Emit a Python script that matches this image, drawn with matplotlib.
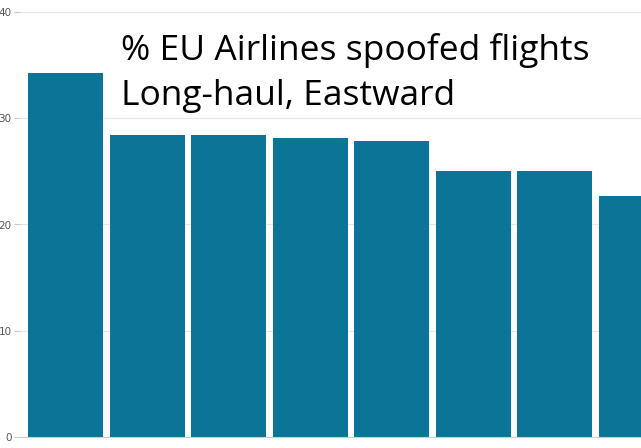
import matplotlib.pyplot as plt

# bar values (last bar is cut off by the image edge)
positions = [0, 1, 2, 3, 4, 5, 6, 7]
values = [34.3, 28.4, 28.4, 28.1, 27.9, 25.0, 25.0, 22.7]
yticks = [0, 10, 20, 30, 40]
title_lines = ["% EU Airlines spoofed flights", "Long-haul, Eastward"]

fig = plt.figure(figsize=(6.41, 4.48), dpi=100)
ax = fig.add_axes([20 / 641, 11 / 448, 1 - 20 / 641, 1 - 23 / 448])

ax.bar(positions, values, width=0.92, color='#0c7597')

ax.set_xlim(-0.558, 7.06)
ax.set_ylim(0, 40)
ax.set_yticks(yticks)
ax.set_yticklabels([str(t) for t in yticks], fontsize=7.5, color='#555555')
ax.set_xticks([])
ax.yaxis.grid(True, color='#e6e6e6', linewidth=0.8)
ax.set_axisbelow(True)
for s in ['top', 'right', 'left']:
    ax.spines[s].set_visible(False)
ax.spines['bottom'].set_color('#cccccc')
ax.tick_params(axis='y', length=4, color='#cccccc', pad=2)

fig.text(121 / 641, 1 - 33 / 448, "\n".join(title_lines), fontsize=25.5,
         family='Open Sans', va='top', ha='left', linespacing=1.42, color='black')

fig.savefig('out.png', dpi=100)
